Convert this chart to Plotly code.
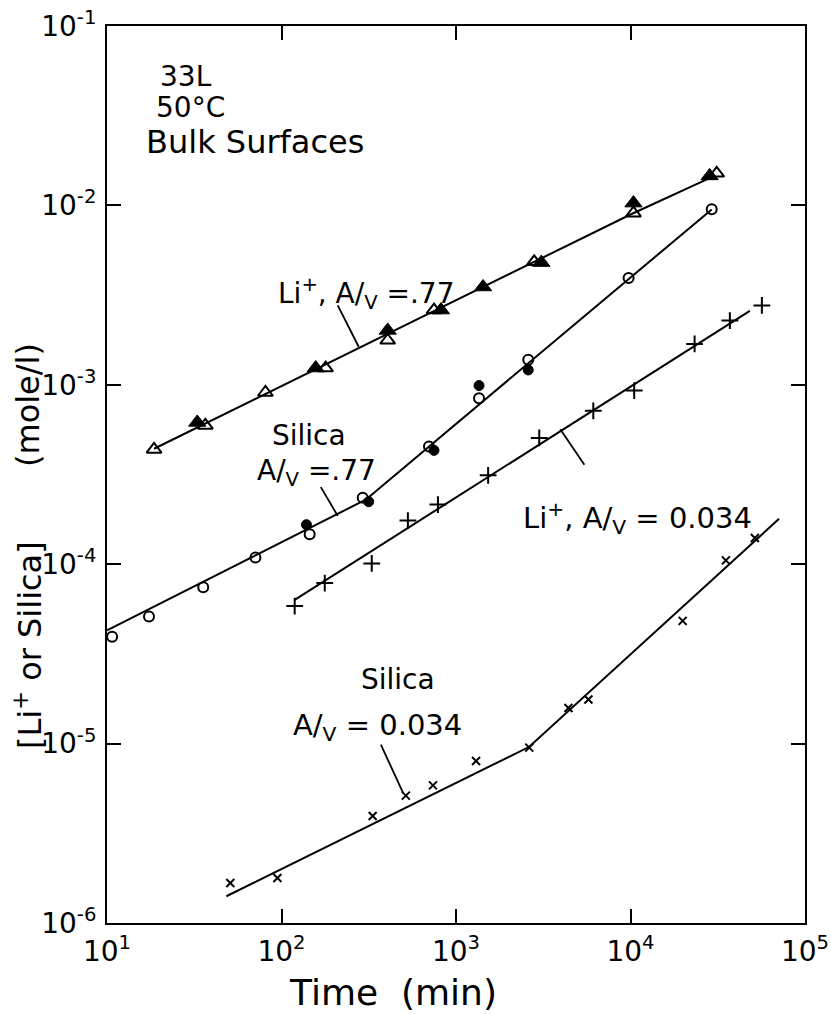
import plotly.graph_objects as go

# ---------------- data (time in min, concentration in mole/l) ----------------
li077_open_t = [18.6, 36.6, 80.9, 179, 406, 748, 2806, 10400, 31200]
li077_open_c = [4.36e-4, 5.94e-4, 9.06e-4, 1.24e-3, 1.77e-3, 2.61e-3, 4.85e-3, 9.05e-3, 1.51e-2]
li077_fill_t = [32.9, 157, 406, 820, 1429, 3083, 10400, 28400]
li077_fill_c = [6.17e-4, 1.24e-3, 2.01e-3, 2.61e-3, 3.51e-3, 4.80e-3, 1.03e-2, 1.46e-2]
li077_fit_t = [18.6, 10000, 28400]
li077_fit_c = [4.4e-4, 8.9e-3, 1.42e-2]

sil077_open_t = [10.7, 17.4, 35.6, 70.9, 145, 292, 700, 1355, 2594, 9750, 29200]
sil077_open_c = [3.94e-5, 5.11e-5, 7.43e-5, 1.09e-4, 1.47e-4, 2.35e-4, 4.53e-4, 8.41e-4, 1.38e-3, 3.94e-3, 9.51e-3]
sil077_fill_t = [139, 316, 748, 1355, 2594]
sil077_fill_c = [1.66e-4, 2.23e-4, 4.31e-4, 9.9e-4, 1.21e-3]
sil077_fit_t = [10, 304, 29200]
sil077_fit_c = [4.28e-5, 2.29e-4, 9.5e-3]

li034_t = [119, 177, 329, 530, 788, 1528, 3000, 6120, 10500, 23300, 37100, 56600]
li034_c = [5.84e-5, 7.85e-5, 1.01e-4, 1.75e-4, 2.15e-4, 3.13e-4, 5.06e-4, 7.16e-4, 9.29e-4, 1.69e-3, 2.28e-3, 2.77e-3]
li034_fit_t = [119, 48300]
li034_fit_c = [6.33e-5, 2.58e-3]

sil034_t = [50.9, 94.8, 333, 516, 738, 1303, 2630, 4410, 5740, 19900, 35200, 51600]
sil034_c = [1.67e-6, 1.78e-6, 3.95e-6, 5.13e-6, 5.85e-6, 8.0e-6, 9.5e-6, 1.58e-5, 1.76e-5, 4.83e-5, 1.05e-4, 1.40e-4]
sil034_fit_t = [48.3, 2630, 71000]
sil034_fit_c = [1.41e-6, 9.6e-6, 1.79e-4]

# leader lines from labels to curves
lead_li077_t = [210, 277]
lead_li077_c = [2.77e-3, 1.63e-3]
lead_sil077_t = [168, 210]
lead_sil077_c = [2.69e-4, 1.86e-4]
lead_li034_t = [3960, 5440]
lead_li034_c = [5.66e-4, 3.58e-4]
lead_sil034_t = [371, 496]
lead_sil034_c = [9.87e-6, 5.34e-6]

x_tickvals = [1e1, 1e2, 1e3, 1e4, 1e5]
x_ticktext = ["10<sup>1</sup>", "10<sup>2</sup>", "10<sup>3</sup>", "10<sup>4</sup>", "10<sup>5</sup>"]
y_tickvals = [1e-6, 1e-5, 1e-4, 1e-3, 1e-2, 1e-1]
y_ticktext = ["10<sup>-6</sup>", "10<sup>-5</sup>", "10<sup>-4</sup>", "10<sup>-3</sup>", "10<sup>-2</sup>", "10<sup>-1</sup>"]

FONT = "DejaVu Sans"
K = "black"

fig = go.Figure()

def line(t, c, w=2):
    fig.add_trace(go.Scatter(x=t, y=c, mode="lines", line=dict(color=K, width=w),
                             showlegend=False, hoverinfo="skip"))

def pts(t, c, symbol, size, lw=2):
    fig.add_trace(go.Scatter(x=t, y=c, mode="markers",
                             marker=dict(symbol=symbol, size=size, color=K,
                                         line=dict(color=K, width=lw)),
                             showlegend=False))

# fitted lines
line(li077_fit_t, li077_fit_c)
line(sil077_fit_t, sil077_fit_c)
line(li034_fit_t, li034_fit_c)
line(sil034_fit_t, sil034_fit_c)
# leaders
line(lead_li077_t, lead_li077_c, 1.8)
line(lead_sil077_t, lead_sil077_c, 1.8)
line(lead_li034_t, lead_li034_c, 1.8)
line(lead_sil034_t, lead_sil034_c, 1.8)

# markers
pts(li077_fill_t, li077_fill_c, "triangle-up", 15, 1)
pts(li077_open_t, li077_open_c, "triangle-up-open", 13, 2)
pts(sil077_fill_t, sil077_fill_c, "circle", 10, 1)
pts(sil077_open_t, sil077_open_c, "circle-open", 10, 2)
pts(li034_t, li034_c, "cross-thin", 12, 2)
pts(sil034_t, sil034_c, "x-thin", 8, 2)

W, H = 831, 1014
L, R, T, B = 107, 26, 26, 91
PW, PH = W - L - R, H - T - B

def px(xp):
    return (xp - L) / PW

def py(yp):
    return (H - B - yp) / PH

def text(s, xp, yp, size=28, angle=0):
    fig.add_annotation(text=s, x=px(xp), y=py(yp), xref="paper", yref="paper",
                       showarrow=False, xanchor="center", yanchor="middle",
                       textangle=angle, font=dict(family=FONT, size=size, color=K))

text("33L", 186, 76, 28)
text("50°C", 190, 107, 28)
text("Bulk Surfaces", 255, 142, 32)
text("Li<sup>+</sup>, A/<sub>V</sub> =.77", 366, 293, 28)
text("Silica", 309, 435, 28)
text("A/<sub>V</sub> =.77", 316, 472, 28)
text("Li<sup>+</sup>, A/<sub>V</sub> = 0.034", 637, 518, 29)
text("Silica", 398, 679, 28)
text("A/<sub>V</sub> = 0.034", 377, 727, 29)
text("Time  (min)", 393, 992, 36)
text("(mole/l)", 28, 405, 32, -90)
text("[Li<sup>+</sup> or Silica]", 28, 645, 32, -90)

axis_common = dict(showline=True, linecolor=K, linewidth=2, mirror="allticks",
                   ticks="inside", ticklen=14, tickwidth=2, tickcolor=K,
                   showgrid=False, zeroline=False, automargin=False)

fig.update_xaxes(type="log", range=[1, 5], tickvals=x_tickvals, ticktext=x_ticktext,
                 ticklabelstandoff=2, ticklabelshift=0, ticklabeloverflow="allow",
                 tickfont=dict(family=FONT, size=28, color=K), **axis_common)
fig.update_yaxes(type="log", range=[-6, -1], tickvals=y_tickvals, ticktext=y_ticktext,
                 ticklabelstandoff=3, ticklabeloverflow="allow",
                 tickfont=dict(family=FONT, size=28, color=K), **axis_common)

fig.update_layout(width=W, height=H, margin=dict(l=L, r=R, t=T, b=B, autoexpand=False),
                  plot_bgcolor="white", paper_bgcolor="white", showlegend=False,
                  font=dict(family=FONT, color=K))

fig.write_html("out.html")
